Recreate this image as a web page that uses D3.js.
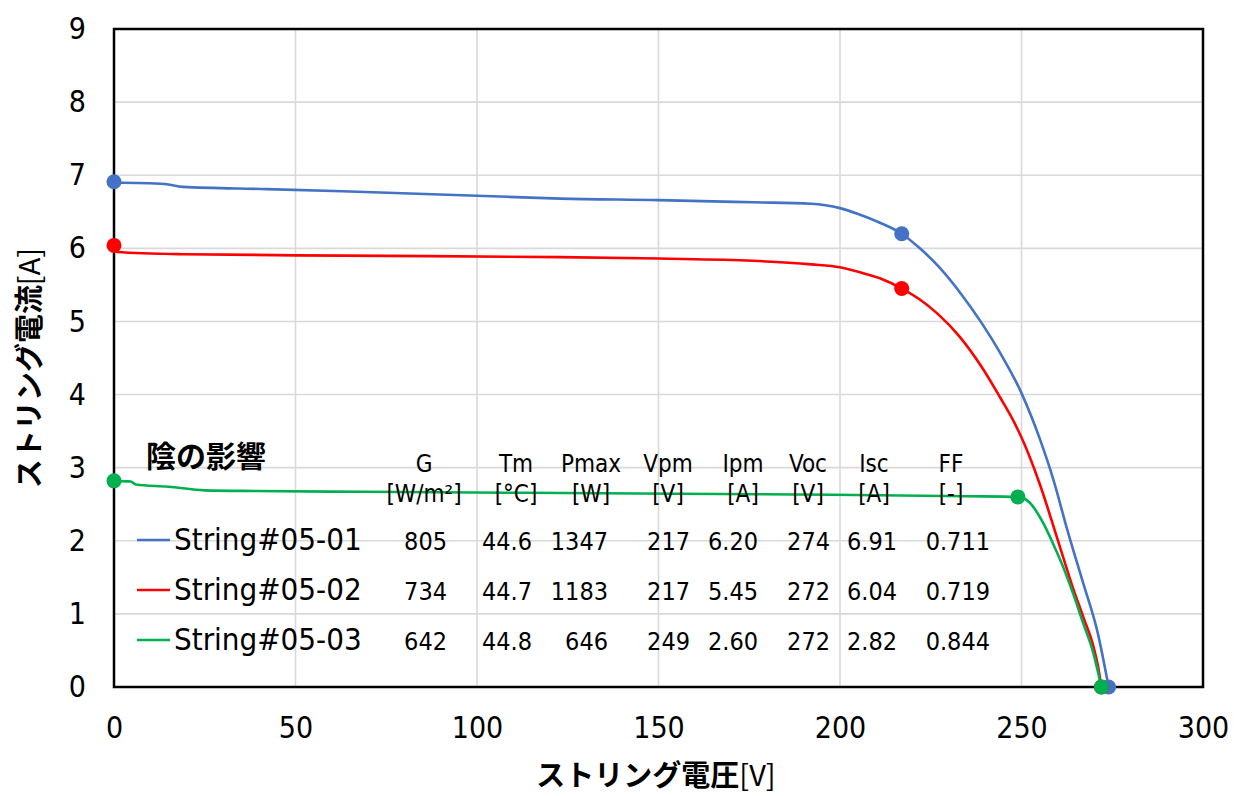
<!DOCTYPE html>
<html>
<head>
<meta charset="utf-8">
<script src="https://cdn.jsdelivr.net/npm/d3@7"></script>
<style>
  html, body { margin: 0; padding: 0; background: #fff; }
  svg { display: block; }
</style>
</head>
<body>
<script>
// I-V curves of three PV strings (shading effect)
const seriesNames = ["String#05-01", "String#05-02", "String#05-03"];
const seriesColors = ["#4472C4", "#FF0000", "#00B050"];

const voltage0501 = [0, 14, 19, 42, 63, 100, 123, 150, 176, 192, 196, 200, 205, 211, 217, 222, 227, 233, 239, 244, 250, 255, 259, 262.5, 267, 271, 274];
const current0501 = [6.90, 6.88, 6.84, 6.81, 6.78, 6.72, 6.68, 6.66, 6.63, 6.61, 6.59, 6.55, 6.47, 6.35, 6.20, 6.00, 5.76, 5.40, 4.98, 4.58, 4.02, 3.40, 2.80, 2.17, 1.42, 0.74, 0];

const voltage0502 = [0, 0.8, 19, 63, 123, 150, 176, 192, 200, 205, 211, 217, 222, 227, 233, 239, 244, 248, 251, 255, 260, 264, 267, 270, 271.2, 272];
const current0502 = [6.04, 5.95, 5.92, 5.90, 5.88, 5.86, 5.83, 5.78, 5.74, 5.68, 5.59, 5.45, 5.30, 5.10, 4.79, 4.38, 3.97, 3.62, 3.30, 2.78, 2.01, 1.38, 0.96, 0.52, 0.25, 0];

const voltage0503 = [0, 4.6, 6, 15, 25, 39, 69, 134, 198, 235, 249, 252.3, 256, 258.6, 261.4, 264.2, 267, 269.7, 271, 272];
const current0503 = [2.82, 2.81, 2.77, 2.74, 2.69, 2.68, 2.67, 2.65, 2.63, 2.61, 2.60, 2.52, 2.24, 1.97, 1.65, 1.28, 0.87, 0.48, 0.22, 0];

// Measured characteristics per string
const statG    = ["805", "734", "642"];
const statTm   = ["44.6", "44.7", "44.8"];
const statPmax = ["1347", "1183", "646"];
const statVpm  = [217, 217, 249];
const statIpm  = [6.20, 5.45, 2.60];
const statVoc  = [274, 272, 272];
const statIsc  = [6.91, 6.04, 2.82];
const statFF   = ["0.711", "0.719", "0.844"];

const columnHeads = ["G", "Tm", "Pmax", "Vpm", "Ipm", "Voc", "Isc", "FF"];
const columnUnits = ["[W/m²]", "[°C]", "[W]", "[V]", "[A]", "[V]", "[A]", "[-]"];

const xTicks = [0, 50, 100, 150, 200, 250, 300];
const yTicks = [0, 1, 2, 3, 4, 5, 6, 7, 8, 9];

const W = 1237, H = 796;
const M = { left: 114, right: 1203, top: 29, bottom: 687 };
const latin = "'DejaVu Sans Condensed', 'DejaVu Sans', sans-serif";
const cjk = "'Noto Sans CJK JP', sans-serif";

const svg = d3.select("body").append("svg").attr("width", W).attr("height", H);
svg.append("rect").attr("width", W).attr("height", H).attr("fill", "#fff");

const x = d3.scaleLinear().domain([0, 300]).range([M.left, M.right]);
const y = d3.scaleLinear().domain([0, 9]).range([M.bottom, M.top]);

// gridlines
const grid = svg.append("g").attr("stroke", "#d9d9d9").attr("stroke-width", 1.6);
grid.selectAll("line.gx").data(xTicks.slice(1, -1)).join("line")
  .attr("x1", d => x(d)).attr("x2", d => x(d)).attr("y1", M.top).attr("y2", M.bottom);
grid.selectAll("line.gy").data(yTicks.slice(1, -1)).join("line")
  .attr("x1", M.left).attr("x2", M.right).attr("y1", d => y(d)).attr("y2", d => y(d));

// axes (labels only; the frame is drawn separately)
const xAxis = svg.append("g").attr("transform", `translate(0,${M.bottom})`)
  .call(d3.axisBottom(x).tickValues(xTicks).tickSize(0).tickPadding(30));
const yAxis = svg.append("g").attr("transform", `translate(${M.left},0)`)
  .call(d3.axisLeft(y).tickValues(yTicks).tickSize(0).tickPadding(28));
[xAxis, yAxis].forEach(a => {
  a.select(".domain").remove();
  a.selectAll("text").attr("font-family", latin).attr("font-size", 30).attr("fill", "#000");
});

// frame
svg.append("rect").attr("x", M.left).attr("y", M.top)
  .attr("width", M.right - M.left).attr("height", M.bottom - M.top)
  .attr("fill", "none").attr("stroke", "#000").attr("stroke-width", 2.5);

// axis titles
const xt = svg.append("text").attr("x", 656).attr("y", 786).attr("text-anchor", "middle")
  .attr("font-size", 29).attr("fill", "#000");
xt.append("tspan").attr("font-family", cjk).attr("font-weight", 700).text("ストリング電圧");
xt.append("tspan").attr("font-family", cjk).attr("font-weight", 400).text("[V]");

const yt = svg.append("text").attr("transform", "translate(40,368) rotate(-90)")
  .attr("text-anchor", "middle").attr("font-size", 29).attr("fill", "#000");
yt.append("tspan").attr("font-family", cjk).attr("font-weight", 700).text("ストリング電流");
yt.append("tspan").attr("font-family", cjk).attr("font-weight", 400).text("[A]");

// curves
const series = [
  { v: voltage0501, i: current0501 },
  { v: voltage0502, i: current0502 },
  { v: voltage0503, i: current0503 }
];
const line = d3.line().x(d => x(d[0])).y(d => y(d[1])).curve(d3.curveMonotoneX);
series.forEach((s, k) => {
  const pts = s.v.map((v, j) => [v, s.i[j]]);
  svg.append("path").datum(pts).attr("d", line)
    .attr("fill", "none").attr("stroke", seriesColors[k]).attr("stroke-width", 2.6)
    .attr("stroke-linejoin", "round");
});

// characteristic points: Isc, maximum power point, Voc
series.forEach((s, k) => {
  const marks = [[0, statIsc[k]], [statVpm[k], statIpm[k]], [statVoc[k], 0]];
  svg.append("g").selectAll("circle").data(marks).join("circle")
    .attr("cx", d => x(d[0])).attr("cy", d => y(d[1])).attr("r", 7.5)
    .attr("fill", seriesColors[k]);
});

// annotation table
svg.append("text").attr("x", 146).attr("y", 467).attr("font-family", cjk)
  .attr("font-weight", 700).attr("font-size", 30).attr("fill", "#000").text("陰の影響");

const headX = [424, 516, 591, 668, 743, 808, 874, 951];
const valRight = [447, 532, 608, 690, 758, 830, 897, 990];
const cols = [
  statG, statTm, statPmax,
  statVpm.map(String),
  statIpm.map(d => d.toFixed(2)),
  statVoc.map(String),
  statIsc.map(d => d.toFixed(2)),
  statFF
];
const tbl = svg.append("g").attr("font-family", latin).attr("fill", "#000");
columnHeads.forEach((h, c) => {
  tbl.append("text").attr("x", headX[c]).attr("y", 472).attr("text-anchor", "middle")
    .attr("font-size", 24).text(h);
  tbl.append("text").attr("x", headX[c]).attr("y", 502).attr("text-anchor", "middle")
    .attr("font-size", 24).text(columnUnits[c]);
});
const rowBase = [550, 600, 650];
seriesNames.forEach((name, r) => {
  svg.append("line").attr("x1", 137).attr("x2", 170)
    .attr("y1", rowBase[r] - 10).attr("y2", rowBase[r] - 10)
    .attr("stroke", seriesColors[r]).attr("stroke-width", 2.6);
  tbl.append("text").attr("x", 174).attr("y", rowBase[r]).attr("font-size", 31).text(name);
  cols.forEach((col, c) => {
    tbl.append("text").attr("x", valRight[c]).attr("y", rowBase[r]).attr("text-anchor", "end")
      .attr("font-size", 25).text(col[r]);
  });
});
</script>
</body>
</html>
